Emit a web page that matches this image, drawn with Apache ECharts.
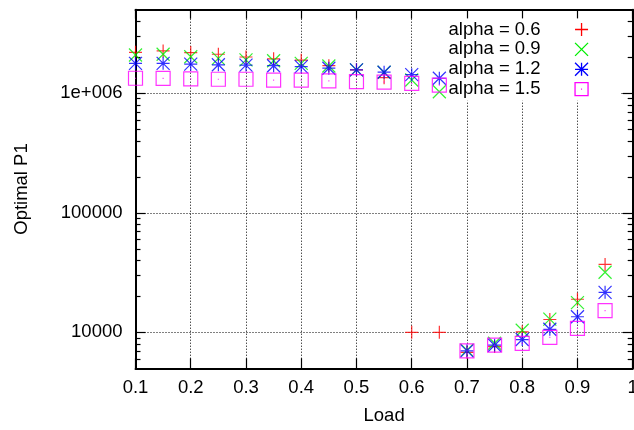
<!DOCTYPE html>
<html>
<head>
<meta charset="utf-8">
<script src="https://cdn.jsdelivr.net/npm/echarts@6/dist/echarts.min.js"></script>
<style>
html,body{margin:0;padding:0;background:#fff;}
#chart{width:634px;height:430px;}
</style>
</head>
<body>
<div id="chart"></div>
<script>
const loads = [0.1,0.15,0.2,0.25,0.3,0.35,0.4,0.45,0.5,0.55,0.6,0.65,0.7,0.75,0.8,0.85,0.9,0.95];
const alpha06 = [2.2e6,2.26e6,2.19e6,2.12e6,2.01e6,1.94e6,1.89e6,1.7e6,1.57e6,1.35e6,10000,10000,6800,7600,10100,12800,18900,37000];
const alpha09 = [2.09e6,2.12e6,2.02e6,1.96e6,1.9e6,1.87e6,1.78e6,1.69e6,1.57e6,1.5e6,1.29e6,1.03e6,7100,8100,10400,12900,17700,31800];
const alpha12 = [1.78e6,1.78e6,1.75e6,1.73e6,1.72e6,1.7e6,1.67e6,1.62e6,1.57e6,1.5e6,1.43e6,1.335e6,7000,7800,8700,10600,13500,21600];
const alpha15 = [1.335e6,1.33e6,1.32e6,1.31e6,1.31e6,1.29e6,1.29e6,1.27e6,1.25e6,1.24e6,1.21e6,1.17e6,7000,7800,8070,9080,10800,15160];
const seriesNames = ['alpha = 0.6','alpha = 0.9','alpha = 1.2','alpha = 1.5'];
const yMajorTicks = [10000,100000,1000000];
const yMajorLabels = ['10000','100000','1e+006'];
const yMinorTicks = [6000,7000,8000,9000,20000,30000,40000,50000,60000,70000,80000,90000,200000,300000,400000,500000,600000,700000,800000,900000,2000000,3000000,4000000];
const xTicks = [0.1,0.2,0.3,0.4,0.5,0.6,0.7,0.8,0.9,1];
const xTickLabels = ['0.1','0.2','0.3','0.4','0.5','0.6','0.7','0.8','0.9','1'];

const FONT = 'Liberation Sans, Arial, sans-serif';
const FS = 18.5;
const colors = ['#ff0000','#00ee00','#0000ff','#ff00ff'];
const symbols = [
  'path://M0,5L10,5M5,0L5,10',
  'path://M0,0L10,10M10,0L0,10',
  'path://M0,5L10,5M5,0L5,10M0,0L10,10M10,0L0,10',
  'path://M0,0L10,0L10,10L0,10ZM4.6,5L5.4,5'
];
const sizes = [13,13,13,14];
const dataSets = [alpha06, alpha09, alpha12, alpha15];

function pairs(vals){ return loads.map((x,i)=>[x, vals[i]]); }

const yBase = {type:'log', logBase:10, min:5000, max:5000000};
const xBase = {type:'value', min:0.1, max:1, interval:0.1};

const option = {
  animation:false,
  backgroundColor:'#fff',
  grid:{left:135.5, right:1.3, top:9.7, bottom:61.7, containLabel:false, outerBoundsMode:'none'},
  legend:{
    orient:'vertical', right:14, top:18.5, padding:[1.5,31.3,2,33],
    backgroundColor:'#fff', itemWidth:72, itemHeight:13, itemGap:0.9,
    align:'right', z:1, selectedMode:false,
    textStyle:{fontSize:FS, color:'#000', fontFamily:FONT, lineHeight:18},
    data: seriesNames.map((n,i)=>({name:n, icon:symbols[i], itemStyle:{color:'rgba(255,255,255,0)', borderColor:colors[i], borderWidth:1.3, opacity:1}}))
  },
  xAxis:[
    Object.assign({}, xBase, {
      position:'bottom',
      name:'Load', nameLocation:'middle', nameGap:38,
      nameTextStyle:{fontSize:FS, color:'#000', fontFamily:FONT},
      axisLine:{show:true, lineStyle:{color:'#000', width:2}},
      axisTick:{show:true, inside:true, length:10, customValues:xTicks, lineStyle:{color:'#000', width:1.2}},
      axisLabel:{show:true, margin:10, fontSize:FS, color:'#000', fontFamily:FONT, customValues:xTicks,
        formatter:(v)=>{const i = xTicks.findIndex(t=>Math.abs(t-v)<1e-9); return i>=0 ? xTickLabels[i] : '';}},
      splitLine:{show:true, lineStyle:{color:'#000', width:1, type:[1,2]}}
    }),
    Object.assign({}, xBase, {
      position:'top',
      axisLine:{show:true, lineStyle:{color:'#000', width:2}},
      axisTick:{show:true, inside:true, length:9, customValues:xTicks, lineStyle:{color:'#000', width:1.2}},
      axisLabel:{show:false},
      splitLine:{show:false}
    })
  ],
  yAxis:[
    Object.assign({}, yBase, {
      position:'left',
      name:'Optimal P1', nameLocation:'middle', nameGap:104,
      nameTextStyle:{fontSize:FS, color:'#000', fontFamily:FONT},
      axisLine:{show:true, lineStyle:{color:'#000', width:2}},
      axisTick:{show:true, inside:true, length:10, customValues:yMajorTicks, lineStyle:{color:'#000', width:1.2}},
      axisLabel:{show:true, margin:13, fontSize:FS, color:'#000', fontFamily:FONT, customValues:yMajorTicks,
        formatter:(v)=>{const i = yMajorTicks.findIndex(t=>Math.abs(t-v)/t<1e-6); return i>=0 ? yMajorLabels[i] : '';}},
      splitLine:{show:true, lineStyle:{color:'#000', width:1, type:[1,2]}},
      minorTick:{show:false}
    }),
    Object.assign({}, yBase, {
      position:'left',
      axisLine:{show:false},
      axisTick:{show:true, inside:true, length:5, customValues:yMinorTicks, lineStyle:{color:'#000', width:1.2}},
      axisLabel:{show:false},
      splitLine:{show:false}
    }),
    Object.assign({}, yBase, {
      position:'right',
      axisLine:{show:true, lineStyle:{color:'#000', width:2}},
      axisTick:{show:true, inside:true, length:10, customValues:yMajorTicks, lineStyle:{color:'#000', width:1.2}},
      axisLabel:{show:false},
      splitLine:{show:false}
    }),
    Object.assign({}, yBase, {
      position:'right',
      axisLine:{show:false},
      axisTick:{show:true, inside:true, length:5, customValues:yMinorTicks, lineStyle:{color:'#000', width:1.2}},
      axisLabel:{show:false},
      splitLine:{show:false}
    })
  ],
  series: seriesNames.map((n,i)=>({
    name:n, type:'scatter', xAxisIndex:0, yAxisIndex:0, z:2,
    symbol:symbols[i], symbolSize:sizes[i],
    itemStyle:{color:'transparent', borderColor:colors[i], borderWidth:1.2},
    emphasis:{disabled:true},
    data: pairs(dataSets[i])
  }))
};

const chart = echarts.init(document.getElementById('chart'), null, {renderer:'canvas'});
chart.setOption(option);
</script>
</body>
</html>
